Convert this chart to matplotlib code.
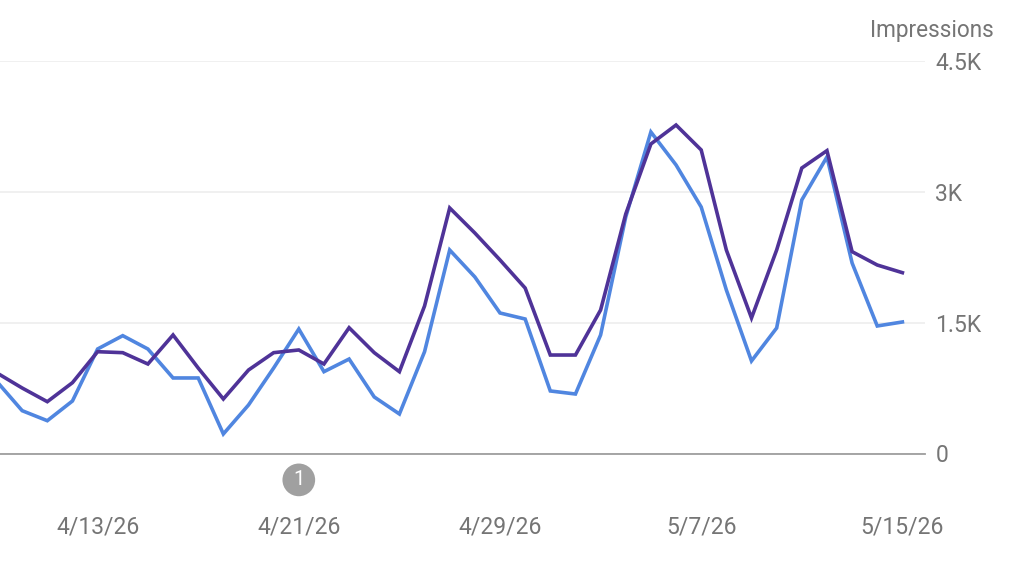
import matplotlib
matplotlib.use("Agg")
import matplotlib.pyplot as plt
import numpy as np

# one value per day, 4/9/26 .. 5/15/26
purple_vals = [923, 751, 594, 812, 1167, 1156, 1026, 1359, 980, 625, 957, 1156, 1187,
               1026, 1442, 1156, 938, 1691, 2815, 2528, 2219, 1897, 1129, 1129, 1645,
               2746, 3549, 3766, 3480, 2333, 1554, 2333, 3273, 3472, 2314, 2161, 2073]
blue_vals = [823, 491, 376, 602, 1198, 1351, 1198, 866, 866, 224, 556, 980, 1427,
             938, 1083, 648, 453, 1167, 2333, 2024, 1611, 1542, 717, 682, 1359,
             2712, 3686, 3308, 2826, 1875, 1061, 1439, 2907, 3400, 2184, 1462, 1508]

date_ticks = [4, 12, 20, 28, 36]
date_labels = ["4/13/26", "4/21/26", "4/29/26", "5/7/26", "5/15/26"]
y_ticks = [0, 1500, 3000, 4500]
y_labels = ["0", "1.5K", "3K", "4.5K"]
annotation_day = 12

GREY = "#757575"
W, H = 1024, 567

plt.rcParams["font.family"] = ["Roboto", "DejaVu Sans"]

fig = plt.figure(figsize=(W / 100, H / 100), dpi=100)
ax = fig.add_axes([0, (H - 453.5) / H, 925 / W, (453.5 - 61) / H])

days = np.arange(len(purple_vals))
ax.plot(days, blue_vals, color="#5086e0", lw=2.6, solid_joinstyle="miter", zorder=3)
ax.plot(days, purple_vals, color="#4f3398", lw=2.6, solid_joinstyle="miter", zorder=4)

ax.set_xlim(3 / 25.15, (925 + 3) / 25.15)
ax.set_ylim(0, 4500)

ax.yaxis.tick_right()
ax.set_yticks(y_ticks, y_labels)
ax.set_xticks(date_ticks, date_labels)
ax.tick_params(axis="y", length=0, pad=7.5, labelsize=16.5, labelcolor=GREY)
ax.tick_params(axis="x", length=0, pad=44.5, labelsize=16.5, labelcolor=GREY)
ax.grid(axis="y", color="#eeeeee", lw=1.2, zorder=1)

for side in ["top", "left", "right"]:
    ax.spines[side].set_visible(False)
ax.spines["bottom"].set_color("#9e9e9e")
ax.spines["bottom"].set_linewidth(1.3)

# annotation marker under the axis
ax.annotate("1", xy=(annotation_day, 0), xycoords=("data", "axes fraction"),
            xytext=(0, -19), textcoords="offset points", ha="center", va="center",
            color="white", fontsize=14.5, annotation_clip=False,
            bbox=dict(boxstyle="circle,pad=0.34", fc="#a0a0a0", ec="none"))

fig.text(994 / W, (H - 30.5) / H, "Impressions", ha="right", va="center",
         color=GREY, fontsize=16.3)

fig.savefig("out.png", dpi=100)
